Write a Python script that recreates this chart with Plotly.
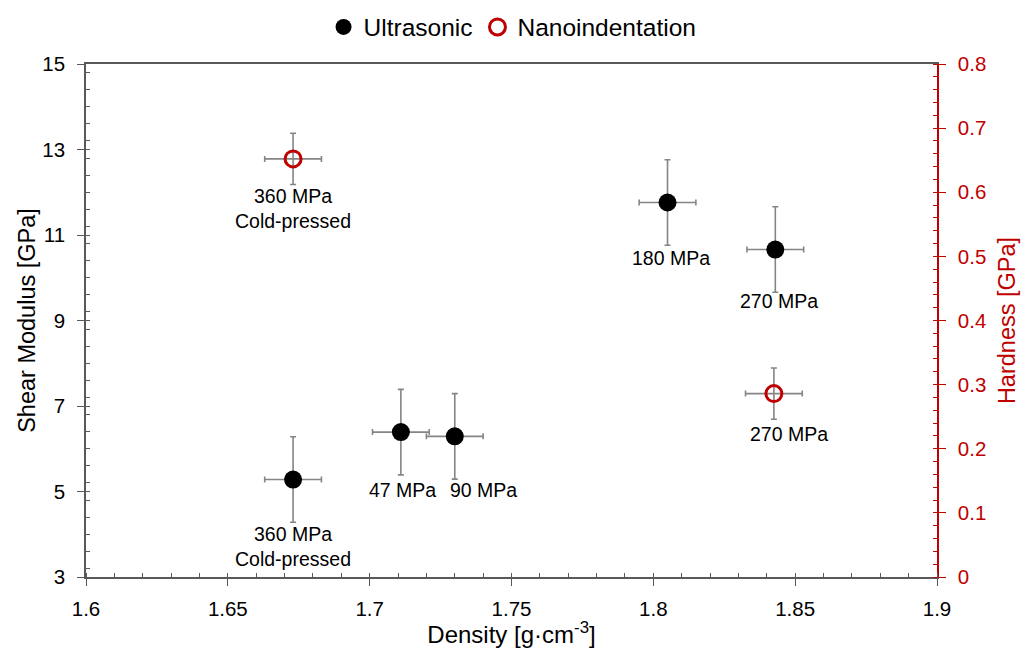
import plotly.graph_objects as go

# Ultrasonic measurements (shear modulus, left axis)
us_density = [1.673, 1.711, 1.730, 1.805, 1.843]
us_modulus = [5.28, 6.39, 6.29, 11.76, 10.66]
us_density_err = [0.01, 0.01, 0.01, 0.01, 0.01]
us_modulus_err = [1.0, 1.0, 1.0, 1.0, 1.0]
us_labels = ["360 MPa<br>Cold-pressed", "47 MPa", "90 MPa", "180 MPa", "270 MPa"]

# Nanoindentation measurements (hardness, right axis)
ni_density = [1.673, 1.8425]
ni_hardness = [0.652, 0.286]
ni_density_err = [0.01, 0.01]
ni_hardness_err = [0.04, 0.04]
ni_labels = ["360 MPa<br>Cold-pressed", "270 MPa"]

# label offsets in pixels (dx, dy) relative to each point
us_label_shift = [(0, -67), (2, -58), (29, -54), (3, -55), (4, -51)]
ni_label_shift = [(0, -50), (15, -40)]

FONT = "Arial, Liberation Sans, sans-serif"
RED = "#C00000"
AXIS = "#595959"
ERR = "#858585"

fig = go.Figure()

fig.add_trace(go.Scatter(
    x=us_density, y=us_modulus, mode="markers", name="Ultrasonic",
    marker=dict(symbol="circle", size=18, color="black"),
    error_x=dict(type="data", array=us_density_err, color=ERR, thickness=1.6, width=3),
    error_y=dict(type="data", array=us_modulus_err, color=ERR, thickness=1.6, width=3),
    xaxis="x", yaxis="y",
))

fig.add_trace(go.Scatter(
    x=ni_density, y=ni_hardness, mode="markers", name="Nanoindentation",
    marker=dict(symbol="circle-open", size=16, color=RED, line=dict(width=3, color=RED)),
    error_x=dict(type="data", array=ni_density_err, color=ERR, thickness=1.6, width=3),
    error_y=dict(type="data", array=ni_hardness_err, color=ERR, thickness=1.6, width=3),
    xaxis="x", yaxis="y2",
))

# helper axes carry the inner halves of the major ticks
fig.add_trace(go.Scatter(x=[1.6], y=[3], xaxis="x2", yaxis="y3", mode="markers",
                         marker=dict(opacity=0), showlegend=False, hoverinfo="skip"))
fig.add_trace(go.Scatter(x=[1.6], y=[0], xaxis="x2", yaxis="y4", mode="markers",
                         marker=dict(opacity=0), showlegend=False, hoverinfo="skip"))

annotations = []
for xv, yv, txt, (dx, dy) in zip(us_density, us_modulus, us_labels, us_label_shift):
    annotations.append(dict(x=xv, y=yv, xref="x", yref="y", text=txt, showarrow=False,
                            xshift=dx, yshift=dy, yanchor="middle", xanchor="center",
                            font=dict(family=FONT, size=19.5, color="black")))
for xv, yv, txt, (dx, dy) in zip(ni_density, ni_hardness, ni_labels, ni_label_shift):
    annotations.append(dict(x=xv, y=yv, xref="x", yref="y2", text=txt, showarrow=False,
                            xshift=dx, yshift=dy, yanchor="middle", xanchor="center",
                            font=dict(family=FONT, size=19.5, color="black")))

tickfont = dict(family=FONT, size=20.5, color="black")
titlefont = dict(family=FONT, size=23.5, color="black")

fig.update_layout(
    width=1021, height=648,
    margin=dict(l=86, r=84, t=64, b=71),
    paper_bgcolor="white", plot_bgcolor="white",
    font=dict(family=FONT),
    annotations=annotations,
    showlegend=True,
    legend=dict(orientation="h", xref="container", yref="container",
                x=0.502, y=1 - 27 / 648, xanchor="center", yanchor="middle",
                font=dict(family=FONT, size=24.5, color="black"),
                itemwidth=30, tracegroupgap=0),
    xaxis=dict(
        range=[1.6, 1.9], tick0=1.6, dtick=0.05, tickformat="~g", automargin=False,
        showgrid=False, zeroline=False,
        showline=True, linecolor=AXIS, linewidth=1.5, mirror=True,
        ticks="outside", ticklen=7, tickwidth=1.3, tickcolor=AXIS,
        minor=dict(ticks="inside", ticklen=4, dtick=0.01, tickcolor=AXIS, tickwidth=1.2, showgrid=False),
        tickfont=tickfont, ticklabelstandoff=6,
        title=dict(text="Density [g·cm<sup>-3</sup>]", font=dict(family=FONT, size=24, color="black"), standoff=7),
    ),
    xaxis2=dict(
        range=[1.6, 1.9], overlaying="x", anchor="y", side="bottom", automargin=False,
        tick0=1.6, dtick=0.05, ticks="inside", ticklen=4, tickwidth=1.3, tickcolor=AXIS,
        showticklabels=False, showline=False, showgrid=False, zeroline=False,
    ),
    yaxis=dict(
        range=[3, 15], tick0=3, dtick=2, automargin=False,
        showgrid=False, zeroline=False,
        showline=True, linecolor=AXIS, linewidth=1.5,
        ticks="outside", ticklen=7, tickwidth=1.3, tickcolor=AXIS,
        minor=dict(ticks="inside", ticklen=4, dtick=0.4, tickcolor=AXIS, tickwidth=1.2, showgrid=False),
        tickfont=tickfont, ticklabelstandoff=8,
        title=dict(text="Shear Modulus [GPa]", font=titlefont, standoff=0),
    ),
    yaxis2=dict(
        range=[0, 0.8], tick0=0, dtick=0.1, tickformat="~g", automargin=False,
        overlaying="y", side="right", anchor="x",
        showgrid=False, zeroline=False,
        showline=True, linecolor=RED, linewidth=1.5,
        ticks="outside", ticklen=7, tickwidth=1.3, tickcolor=RED,
        minor=dict(ticks="inside", ticklen=4, dtick=0.02, tickcolor=RED, tickwidth=1.2, showgrid=False),
        tickfont=dict(family=FONT, size=20.5, color=RED), ticklabelstandoff=8,
        title=dict(text="Hardness [GPa]", font=dict(family=FONT, size=23.5, color=RED), standoff=13),
    ),
    yaxis3=dict(
        range=[3, 15], overlaying="y", side="left", anchor="x2", automargin=False,
        tick0=3, dtick=2, ticks="inside", ticklen=4, tickwidth=1.3, tickcolor=AXIS,
        showticklabels=False, showline=False, showgrid=False, zeroline=False,
    ),
    yaxis4=dict(
        range=[0, 0.8], overlaying="y", side="right", anchor="x2", automargin=False,
        tick0=0, dtick=0.1, ticks="inside", ticklen=4, tickwidth=1.3, tickcolor=RED,
        showticklabels=False, showline=False, showgrid=False, zeroline=False,
    ),
)

fig.write_html("out.html")
